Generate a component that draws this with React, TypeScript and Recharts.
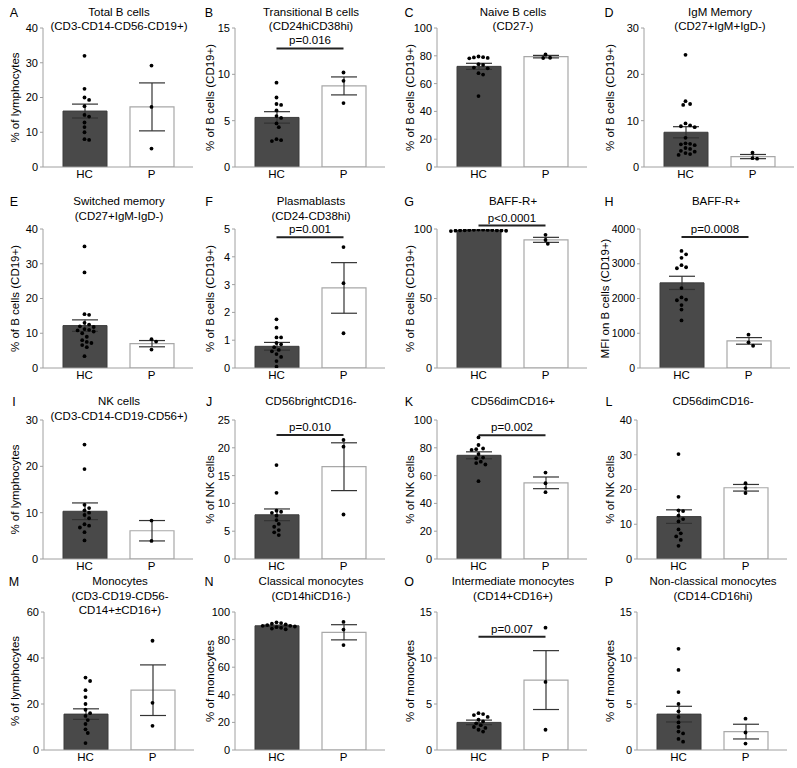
import React from "react";
import {
  Bar,
  Cell,
  ComposedChart,
  ErrorBar,
  ReferenceLine,
  Scatter,
  XAxis,
  YAxis,
  Label,
} from "recharts";

const groups = ["HC", "P"];

// A - Total B cells
const aHC = [32, 22.5, 20, 19.3, 17.5, 15, 14.5, 12.8, 11.5, 10, 8, 7.8];
const aP = [29.2, 17.3, 5.3];
const aMean = [16.1, 17.3];
const aSem = [2.0, 6.9];
// B - Transitional B cells
const bHC = [9.1, 7.5, 6.8, 6.7, 6.1, 5.5, 5.3, 4.7, 4.3, 3.0, 2.9, 2.8];
const bP = [10.2, 9.3, 6.9];
const bMean = [5.35, 8.75];
const bSem = [0.62, 0.97];
// C - Naive B cells
const cHC = [79.5, 79, 78.8, 78.5, 78.2, 74, 73.5, 71.5, 71, 67.5, 66.5, 51];
const cP = [81, 78.6, 78.4];
const cMean = [72.4, 79.4];
const cSem = [2.2, 0.9];
// D - IgM memory
const dHC = [24.2, 14.2, 13.6, 13.4, 9.4, 9.0, 8.8, 8.6, 6.3, 5.1, 5.0, 4.9, 4.7, 4.1, 3.9, 3.5, 3.3, 3.0, 2.8, 2.6];
const dP = [3.1, 1.9, 1.8];
const dMean = [7.5, 2.25];
const dSem = [1.2, 0.45];
// E - Switched memory
const eHC = [35, 27.5, 15.5, 15.3, 13, 12.5, 12, 11.8, 11.2, 11, 10.8, 10.5, 10, 9, 8, 7.5, 7.2, 6.6, 6, 3.4];
const eP = [8.3, 7.6, 5.3];
const eMean = [12.2, 7.0];
const eSem = [1.65, 0.9];
// F - Plasmablasts
const fHC = [1.75, 1.45, 1.1, 1.1, 0.9, 0.85, 0.75, 0.65, 0.6, 0.5, 0.4, 0.25, 0.05];
const fP = [4.35, 3.05, 1.25];
const fMean = [0.78, 2.88];
const fSem = [0.14, 0.91];
// G - BAFF-R+ %
const gHC = [99.5, 99.2, 99, 99.3, 98.8, 98.5, 98.7, 99, 99.4, 99.1, 98.9, 99.2, 99.6];
const gP = [95.8, 92.1, 89.4];
const gMean = [99.0, 92.2];
const gSem = [0.15, 1.8];
// H - BAFF-R+ MFI
const hHC = [3370, 3270, 3170, 2960, 2900, 2870, 2300, 2030, 1970, 1950, 1810, 1680, 1370];
const hP = [960, 740, 640];
const hMean = [2450, 780];
const hSem = [190, 95];
// I - NK cells
const iHC = [24.7, 19.4, 11.7, 11, 10.5, 10, 9.5, 8.8, 7.5, 7.2, 6.8, 5.8, 4];
const iP = [8.3, 3.9];
const iMean = [10.3, 6.1];
const iSem = [1.8, 2.2];
// J - CD56bright
const jHC = [16.9, 11.9, 8.7, 8.5, 8.3, 7.8, 7.0, 6.3, 5.8, 5.2, 4.8, 4.3];
const jP = [21.4, 20.2, 8.0];
const jMean = [7.95, 16.6];
const jSem = [1.05, 4.3];
// K - CD56dimCD16+
const kHC = [87.5, 82, 79.5, 79, 78.5, 75.5, 73, 72.5, 70, 69, 68, 56];
const kP = [62.2, 54.5, 48.1];
const kMean = [74.6, 54.8];
const kSem = [2.5, 4.2];
// L - CD56dimCD16-
const lHC = [30.2, 17.9, 14, 13.8, 12.5, 11.5, 10.8, 8.5, 7.4, 6.5, 5.5, 3.8];
const lP = [21.8, 20.4, 19.0];
const lMean = [12.2, 20.5];
const lSem = [1.95, 0.95];
// M - Monocytes
const mHC = [31.5, 30, 26, 23, 20, 17.5, 16, 14.8, 13, 11.3, 9, 7.4, 3];
const mP = [47.5, 20.5, 10.5];
const mMean = [15.6, 26];
const mSem = [2.3, 11];
// N - Classical monocytes
const nHC = [92.5, 92, 91.5, 91, 90.5, 90, 90, 89.5, 89, 88.5, 88, 87.5];
const nP = [92.8, 87.3, 76];
const nMean = [90, 85.3];
const nSem = [0.5, 5.5];
// O - Intermediate monocytes
const oHC = [4.0, 3.9, 3.8, 3.6, 3.3, 3.1, 2.9, 2.7, 2.5, 2.4, 2.2, 2.0];
const oP = [13.3, 7.4, 2.2];
const oMean = [3.0, 7.6];
const oSem = [0.25, 3.2];
// P - Non-classical monocytes
const pHC = [11.0, 8.7, 6.3, 5.0, 4.2, 3.6, 3.0, 2.5, 2.0, 1.8, 1.2, 0.9];
const pP = [3.4, 1.9, 0.7];
const pMean = [3.9, 2.0];
const pSem = [0.85, 0.8];

const ticks40 = [0, 10, 20, 30, 40];
const ticks30 = [0, 10, 20, 30];
const ticks15 = [0, 5, 10, 15];
const ticks100 = [0, 20, 40, 60, 80, 100];

const panels = [
  { id: "A", title: ["Total B cells", "(CD3-CD14-CD56-CD19+)"], yLabel: "% of lymphocytes", hc: aHC, p: aP, mean: aMean, sem: aSem, ticks: ticks40 },
  { id: "B", title: ["Transitional B cells", "(CD24hiCD38hi)"], yLabel: "% of B cells (CD19+)", hc: bHC, p: bP, mean: bMean, sem: bSem, ticks: ticks15, pText: "p=0.016", pY: 12.8 },
  { id: "C", title: ["Naive B cells", "(CD27-)"], yLabel: "% of B cells (CD19+)", hc: cHC, p: cP, mean: cMean, sem: cSem, ticks: ticks100 },
  { id: "D", title: ["IgM Memory", "(CD27+IgM+IgD-)"], yLabel: "% of B cells (CD19+)", hc: dHC, p: dP, mean: dMean, sem: dSem, ticks: ticks30 },
  { id: "E", title: ["Switched memory", "(CD27+IgM-IgD-)"], yLabel: "% of B cells (CD19+)", hc: eHC, p: eP, mean: eMean, sem: eSem, ticks: ticks40 },
  { id: "F", title: ["Plasmablasts", "(CD24-CD38hi)"], yLabel: "% of B cells (CD19+)", hc: fHC, p: fP, mean: fMean, sem: fSem, ticks: [0, 1, 2, 3, 4, 5], pText: "p=0.001", pY: 4.7 },
  { id: "G", title: ["BAFF-R+"], yLabel: "% of B cells (CD19+)", hc: gHC, p: gP, mean: gMean, sem: gSem, ticks: [0, 50, 100], pText: "p<0.0001", pY: 102.5 },
  { id: "H", title: ["BAFF-R+"], yLabel: "MFI on B cells (CD19+)", hc: hHC, p: hP, mean: hMean, sem: hSem, ticks: [0, 1000, 2000, 3000, 4000], pText: "p=0.0008", pY: 3770 },
  { id: "I", title: ["NK cells", "(CD3-CD14-CD19-CD56+)"], yLabel: "% of lymphocytes", hc: iHC, p: iP, mean: iMean, sem: iSem, ticks: ticks30 },
  { id: "J", title: ["CD56brightCD16-"], yLabel: "% of NK cells", hc: jHC, p: jP, mean: jMean, sem: jSem, ticks: [0, 5, 10, 15, 20, 25], pText: "p=0.010", pY: 22.3 },
  { id: "K", title: ["CD56dimCD16+"], yLabel: "% of NK cells", hc: kHC, p: kP, mean: kMean, sem: kSem, ticks: ticks100, pText: "p=0.002", pY: 89 },
  { id: "L", title: ["CD56dimCD16-"], yLabel: "% of NK cells", hc: lHC, p: lP, mean: lMean, sem: lSem, ticks: ticks40 },
  { id: "M", title: ["Monocytes", "(CD3-CD19-CD56-", "CD14+±CD16+)"], yLabel: "% of lymphocytes", hc: mHC, p: mP, mean: mMean, sem: mSem, ticks: [0, 20, 40, 60] },
  { id: "N", title: ["Classical monocytes", "(CD14hiCD16-)"], yLabel: "% of monocytes", hc: nHC, p: nP, mean: nMean, sem: nSem, ticks: ticks100 },
  { id: "O", title: ["Intermediate monocytes", "(CD14+CD16+)"], yLabel: "% of monocytes", hc: oHC, p: oP, mean: oMean, sem: oSem, ticks: ticks15, pText: "p=0.007", pY: 12.3 },
  { id: "P", title: ["Non-classical monocytes", "(CD14-CD16hi)"], yLabel: "% of monocytes", hc: pHC, p: pP, mean: pMean, sem: pSem, ticks: ticks15 },
];

// layout
const colLeft = [0, 195, 395, 595];
const axisX = [43, 235, 437, 644, 43, 235, 437, 640, 43, 235, 437, 637, 44, 235, 437, 637];
const labelOffset = [15, 15, 15, 15, 15, 15, 15, 10, 15, 15, 15, 15, 15, 15, 15, 15];
const plotTop = [28, 229, 420, 612];
const plotBottom = [167, 368, 559, 750];
const titleY = [12.5, 202, 402, 582];
const PLOT_W = 150;
const PAD = 8;
const TOP_M = 34;
const X_H = 22;
const FONT = "'Liberation Sans', Arial, Helvetica, sans-serif";

// simple beeswarm so dots at similar heights spread sideways
function swarm(values: number[], center: number, max: number, plotH: number) {
  const unitPx = (PLOT_W - 2 * PAD) / 2;
  const pxY = plotH / max;
  const placed: { dx: number; py: number }[] = [];
  const order = values.map((_, i) => i).sort((a, b) => values[b] - values[a]);
  const out: { x: number; y: number }[] = new Array(values.length);
  for (const i of order) {
    const py = values[i] * pxY;
    let dx = 0;
    for (let k = 0; k < 60; k++) {
      const cand = k === 0 ? 0 : (k % 2 ? 1 : -1) * Math.ceil(k / 2) * 2.3;
      if (placed.every((q) => Math.hypot(q.dx - cand, q.py - py) >= 4.2)) {
        dx = cand;
        break;
      }
    }
    placed.push({ dx, py });
    out[i] = { x: center + dx / unitPx, y: values[i] };
  }
  return out;
}

const Dot = (props: any) => <circle cx={props.cx} cy={props.cy} r={1.9} fill="#000" />;

function Panel({ cfg, idx }: { cfg: (typeof panels)[number]; idx: number }) {
  const row = Math.floor(idx / 4);
  const col = idx % 4;
  const left = colLeft[col];
  const ax = axisX[idx];
  const yW = ax - left;
  const plotH = plotBottom[row] - plotTop[row];
  const max = cfg.ticks[cfg.ticks.length - 1];
  const data = groups.map((g, i) => ({ group: g, mean: cfg.mean[i], sem: cfg.sem[i] }));
  const pts = [...swarm(cfg.hc, 1, max, plotH), ...swarm(cfg.p, 2, max, plotH)];
  const cx = ax + PLOT_W / 2 + 1;
  const tickFont = max >= 1000 ? 10.5 : 11;

  return (
    <>
      <div style={{ position: "absolute", left: left + 14, top: titleY[row], transform: "translate(-50%,-50%)", fontSize: 12.5, lineHeight: 1 }}>
        {cfg.id}
      </div>
      {cfg.title.map((t, i) => (
        <div
          key={i}
          style={{ position: "absolute", left: cx, top: titleY[row] + i * 14.5, transform: "translate(-50%,-50%)", fontSize: 11.5, lineHeight: 1, whiteSpace: "nowrap" }}
        >
          {t}
        </div>
      ))}
      <div style={{ position: "absolute", left, top: plotTop[row] - TOP_M }}>
        <ComposedChart
          width={yW + PLOT_W + 2}
          height={TOP_M + plotH + X_H}
          data={data}
          margin={{ top: TOP_M, right: 2, left: 0, bottom: 0 }}
        >
          <XAxis
            dataKey="group"
            padding={{ left: PAD, right: PAD }}
            height={X_H}
            tickLine={false}
            tickSize={0}
            tickMargin={3}
            interval={0}
            axisLine={{ stroke: "#a0a0a0" }}
            tick={{ fontSize: 11.5, fill: "#000" }}
          />
          <XAxis xAxisId="num" type="number" dataKey="x" domain={[0.5, 2.5]} padding={{ left: PAD, right: PAD }} hide allowDataOverflow />
          <YAxis
            width={yW}
            domain={[0, max]}
            ticks={cfg.ticks}
            interval={0}
            tickSize={3}
            tickMargin={2}
            allowDataOverflow
            axisLine={{ stroke: "#a0a0a0" }}
            tickLine={{ stroke: "#a0a0a0" }}
            tick={{ fontSize: tickFont, fill: "#000" }}
          >
            <Label value={cfg.yLabel} angle={-90} position="insideLeft" offset={labelOffset[idx]} style={{ textAnchor: "middle", fontSize: 11.5, fill: "#000" }} />
          </YAxis>
          <Bar dataKey="mean" barSize={44} isAnimationActive={false}>
            <Cell fill="#494949" stroke="#3c3c3c" />
            <Cell fill="#ffffff" stroke="#a8a8a8" strokeWidth={1.2} />
            <ErrorBar dataKey="sem" width={13} stroke="#333" strokeWidth={1.2} direction="y" />
          </Bar>
          <Scatter xAxisId="num" data={pts} dataKey="y" shape={Dot} isAnimationActive={false} />
          {cfg.pText && (
            <ReferenceLine
              xAxisId="num"
              segment={[
                { x: 1, y: cfg.pY },
                { x: 2, y: cfg.pY },
              ]}
              stroke="#222"
              strokeWidth={2}
              ifOverflow="visible"
              label={{ value: cfg.pText, position: "top", offset: 4, fill: "#000", fontSize: 11.5 }}
            />
          )}
        </ComposedChart>
      </div>
    </>
  );
}

export default function App() {
  return (
    <div style={{ position: "absolute", left: 0, top: 0, width: 797, height: 768, background: "#fff", fontFamily: FONT, color: "#000" }}>
      {panels.map((cfg, i) => (
        <Panel key={cfg.id} cfg={cfg} idx={i} />
      ))}
    </div>
  );
}
